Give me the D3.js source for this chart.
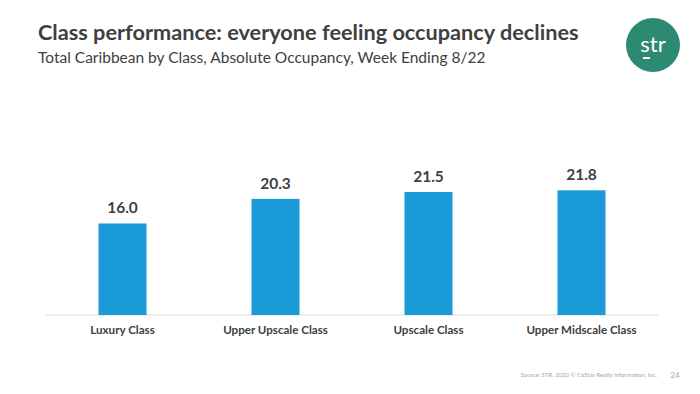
<!DOCTYPE html>
<html>
<head>
<meta charset="utf-8">
<script src="https://cdn.jsdelivr.net/npm/d3@7"></script>
<style>
  body { margin: 0; background: #fff; }
  text { font-family: Lato, "Open Sans", sans-serif; }
</style>
</head>
<body>
<script>
// ------------------------------ Data ------------------------------ //
var categories = ["Luxury Class", "Upper Upscale Class", "Upscale Class", "Upper Midscale Class"];
var occupancy = [16.0, 20.3, 21.5, 21.8];

var title = "Class performance: everyone feeling occupancy declines",
    subtitle = "Total Caribbean by Class, Absolute Occupancy, Week Ending 8/22",
    source = "Source: STR. 2020 \u00a9 CoStar Realty Information, Inc.",
    page_no = "24";

// ------------------------------ SVG ------------------------------- //
var width = 700, height = 394;
var svg = d3.select("body").append("svg")
    .attr("width", width)
    .attr("height", height);

var x = d3.scaleBand()
    .domain(categories)
    .range([46, 658]);

var y = d3.scaleLinear()
    .domain([0, 25])
    .range([315, 172]);

var bar_w = 48;

// titles
svg.append("text")
    .attr("x", 38).attr("y", 40)
    .attr("font-size", 21.7)
    .attr("font-weight", "bold")
    .attr("fill", "#404040")
    .text(title);

svg.append("text")
    .attr("x", 38).attr("y", 63)
    .attr("font-size", 15.5)
    .attr("fill", "#404040")
    .text(subtitle);

// logo
var logo = svg.append("g").attr("transform", "translate(653,45)");
logo.append("circle").attr("r", 27).attr("fill", "#2c8a72");
logo.append("text")
    .attr("text-anchor", "middle")
    .attr("y", 7)
    .attr("font-size", 22)
    .attr("fill", "#fff")
    .text("str");
logo.append("line")
    .attr("x1", -10).attr("x2", -3)
    .attr("y1", 13).attr("y2", 13)
    .attr("stroke", "#fff").attr("stroke-width", 2);

// baseline
svg.append("line")
    .attr("x1", x.range()[0]).attr("x2", x.range()[1])
    .attr("y1", y(0)).attr("y2", y(0))
    .attr("stroke", "#d9d9d9").attr("stroke-width", 1);

// bars
svg.append("g").selectAll("rect")
    .data(occupancy)
    .enter().append("rect")
        .attr("x", function(d, i) { return x(categories[i]) + x.bandwidth()/2 - bar_w/2; })
        .attr("y", function(d) { return y(d); })
        .attr("width", bar_w)
        .attr("height", function(d) { return y(0) - y(d); })
        .attr("fill", "#1a9ad7");

// value labels
svg.append("g").selectAll("text")
    .data(occupancy)
    .enter().append("text")
        .attr("x", function(d, i) { return x(categories[i]) + x.bandwidth()/2; })
        .attr("y", function(d) { return y(d) - 10; })
        .attr("text-anchor", "middle")
        .attr("font-size", 15.5)
        .attr("font-weight", "bold")
        .attr("fill", "#404040")
        .text(function(d) { return d.toFixed(1); });

// category axis
var axis = svg.append("g")
    .attr("transform", "translate(0," + y(0) + ")")
    .call(d3.axisBottom(x).tickSize(0).tickPadding(11));
axis.select(".domain").remove();
axis.selectAll("text")
    .attr("font-size", 11.6)
    .attr("font-weight", "bold")
    .attr("fill", "#404040")
    .style("font-family", "Lato, sans-serif");

// footer
svg.append("text")
    .attr("x", 657).attr("y", 377)
    .attr("text-anchor", "end")
    .attr("font-size", 6)
    .attr("fill", "#a6a6a6")
    .text(source);

svg.append("text")
    .attr("x", 675).attr("y", 378)
    .attr("text-anchor", "middle")
    .attr("font-size", 8)
    .attr("fill", "#a6a6a6")
    .text(page_no);
</script>
</body>
</html>
